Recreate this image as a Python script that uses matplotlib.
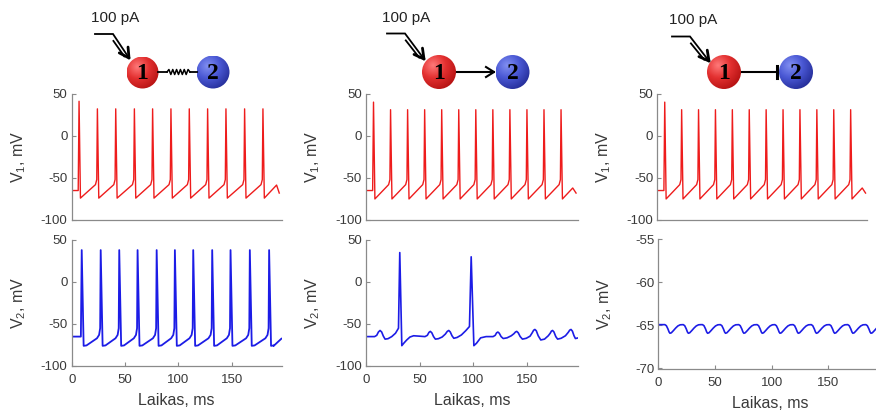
import numpy as np
import matplotlib
matplotlib.use("Agg")
import matplotlib.pyplot as plt
from matplotlib.colors import LinearSegmentedColormap
from matplotlib.patches import Circle

plt.rcParams['font.family'] = ['Liberation Sans', 'DejaVu Sans']
plt.rcParams['mathtext.fontset'] = 'custom'
plt.rcParams['mathtext.rm'] = 'Liberation Sans'
plt.rcParams['axes.unicode_minus'] = False

# ---- values (time in ms, voltage in mV) ----
x_ticks = [0, 50, 100, 150]
v_ticks = [50, 0, -50, -100]
v_ticks_inh = [-55, -60, -65, -70]
x_label = "Laikas, ms"
input_label = "100 pA"

# neuron 1, gap junction (panel 1)
v1_gap_spikes = [6.9, 24.1, 41.3, 58.8, 75.9, 93.1, 110.3, 127.5, 144.7, 162.2, 179.4]
v1_gap_peaks = [41, 32, 32, 32, 32, 32, 32, 32, 32, 32, 32]
v1_gap_tail = [(192.2, -58.5), (194.7, -68)]

# neuron 1, chemical synapse (panels 2 and 3)
v1_syn_spikes = [7.0, 22.9, 38.8, 54.7, 70.6, 86.5, 102.4, 118.3, 134.2, 150.1, 166.0, 181.9]
v1_syn_peaks = [40, 31, 31, 31, 31, 31, 31, 31, 31, 31, 31, 31]
v1_syn_tail = [(192.8, -62), (195.9, -68)]

# neuron 2, gap junction (panel 1)
v2_gap_spikes = [9.4, 27.2, 44.6, 61.8, 79.7, 96.8, 114.0, 131.8, 149.0, 167.1, 185.2]
v2_gap_peaks = [38, 38, 38, 38, 38, 38, 38, 38, 38, 38, 38]
v2_gap_tail = [(189.5, -76), (196.7, -67.5)]

# neuron 2, excitatory synapse (panel 2), trace vertices
v2_exc = [
    (0, -65), (8.0, -65), (10.0, -63.5), (11.6, -59.5), (13.1, -57.7), (14.6, -59.5), (16.2, -64.5), (17.8, -68),
    (20.5, -67.5), (24.0, -65), (27.5, -61), (30.3, -55), (31.5, 35), (33.4, -75.8),
    (35.5, -72.5), (38.0, -69), (41.0, -65.5), (44.4, -64), (50.0, -64.5), (55.0, -65),
    (57.2, -63.5), (58.7, -60), (60.0, -58.8), (61.4, -60.5), (63.0, -65), (64.7, -68), (67.5, -67.5), (71.0, -65.5),
    (74.0, -62), (75.8, -58.8), (77.2, -57.7), (78.6, -59.5), (80.2, -64), (81.9, -67), (85.0, -66), (89.0, -63),
    (93.0, -58), (96.5, -53), (98.1, 30), (100.6, -75.8), (103.0, -73), (106.9, -66.5),
    (112.0, -65), (118.5, -65), (120.5, -63.5), (121.8, -60.5), (123.0, -59.6), (124.3, -61), (126.0, -65), (128.0, -67.3),
    (131.5, -66.5), (135.5, -64), (138.0, -61.5), (139.4, -59.5), (140.6, -58.8), (142.0, -60.5), (143.8, -65), (145.9, -68),
    (149.5, -67), (153.0, -64.5), (155.0, -60.5), (156.3, -57.5), (157.5, -56.5), (158.8, -58), (160.6, -64), (163.0, -69),
    (166.5, -68), (170.0, -64), (171.8, -61), (172.9, -58.5), (174.0, -57.7), (175.3, -59.5), (177.0, -65), (178.7, -68),
    (182.0, -67), (186.0, -64), (188.6, -60), (190.0, -57.3), (191.2, -56.5), (192.5, -58.5), (194.0, -64), (195.3, -67.3),
    (198.0, -66.5),
]

# neuron 2, inhibitory synapse (panel 3): times of IPSP minima
v2_inh_dips = [10.3, 26.5, 43.5, 59.3, 75.5, 91.7, 107.4, 123.5, 139.5, 155.6, 171.7, 187.7]
v2_inh_rest = -64.9
v2_inh_min = -65.9

RED = '#ee1c1c'
BLUE = '#1c1ce6'
AX_COL = '#8a8a8a'
TXT_COL = '#3a3a3a'


def spike_trace(spikes, peaks, rest, before, after, tail):
    # piecewise trace: resting level, spikes, after-hyperpolarisation ramps
    t = [0.0, spikes[0] - 0.8]
    v = [rest, rest]
    for i, (s, p) in enumerate(zip(spikes, peaks)):
        if i > 0:
            for dt, vv in before:
                t.append(s + dt)
                v.append(vv)
        t.append(s)
        v.append(p)
        for dt, vv in after:
            t.append(s + dt)
            v.append(vv)
    for tt, vv in tail:
        t.append(tt)
        v.append(vv)
    return t, v


def ipsp_trace(dips, rest, vmin):
    depth = rest - vmin
    shape = [(-4.5, 0.0), (-3.2, 0.12), (-1.8, 0.5), (-0.8, 0.85), (0.0, 1.0), (1.2, 0.95),
             (3.0, 0.7), (5.0, 0.4), (7.0, 0.15), (9.0, 0.02), (11.0, 0.0)]
    t = [0.0]
    v = [rest]
    for d in dips:
        for dt, f in shape:
            t.append(d + dt)
            v.append(rest - f * depth)
    return t, v


W, H = 876, 412
fig = plt.figure(figsize=(W / 100, H / 100), dpi=100)


def px_axes(x0, y0, x1, y1):
    return fig.add_axes([x0 / W, 1 - y1 / H, (x1 - x0) / W, (y1 - y0) / H])


def style(ax, xmax, ylim, yticks, bottom):
    ax.set_xlim(0, xmax)
    ax.set_ylim(*ylim)
    ax.patch.set_alpha(0)
    for s in ['top', 'right']:
        ax.spines[s].set_visible(False)
    for s in ['left', 'bottom']:
        ax.spines[s].set_color(AX_COL)
        ax.spines[s].set_linewidth(0.9)
    ax.set_yticks(yticks)
    ax.tick_params(direction='in', length=3, width=0.8, color=AX_COL,
                   labelsize=9.5, labelcolor=TXT_COL, pad=3)
    ax.tick_params(axis='x', pad=6)
    if bottom:
        ax.set_xticks(x_ticks)
        ax.set_xlabel(x_label, fontsize=11.5, color=TXT_COL)
    else:
        ax.set_xticks([])


def ylab(ax, n, width_px, height_px, is_bottom):
    ax.set_ylabel('V$_\\mathregular{%d}$, mV' % n, fontsize=11.5, color=TXT_COL)
    ax.yaxis.set_label_coords(-44 / width_px, 0.5)
    if is_bottom:
        ax.xaxis.set_label_coords(0.5, -27 / height_px)


# ---- top row: neuron 1 ----
t1g, v1g = spike_trace(v1_gap_spikes, v1_gap_peaks, -65, [(-1.8, -58), (-0.6, -52)], [(1.3, -74)], v1_gap_tail)
t1s, v1s = spike_trace(v1_syn_spikes, v1_syn_peaks, -65, [(-1.8, -58), (-0.6, -52)], [(1.3, -75)], v1_syn_tail)
t2g, v2g = spike_trace(v2_gap_spikes, v2_gap_peaks, -65, [(-3.5, -67), (-1.5, -63), (-0.5, -55)],
                       [(1.8, -76), (4.5, -75.5)], v2_gap_tail)
t2e = [p[0] for p in v2_exc]
v2e = [p[1] for p in v2_exc]
t2i, v2i = ipsp_trace(v2_inh_dips, v2_inh_rest, v2_inh_min)

boxes_top = [(71.7, 93.7, 281.7, 220), (366, 93.7, 578.3, 220), (657.3, 93.7, 866.7, 220)]
xmax_top = [197, 198, 197]
traces_top = [(t1g, v1g), (t1s, v1s), (t1s, v1s)]
for box, xm, (tt, vv) in zip(boxes_top, xmax_top, traces_top):
    ax = px_axes(*box)
    ax.plot(tt, vv, color=RED, lw=1.0)
    style(ax, xm, (-100, 50), v_ticks, False)
    ylab(ax, 1, box[2] - box[0], box[3] - box[1], False)

# ---- bottom row: neuron 2 ----
ax = px_axes(71.7, 240, 281.7, 366)
ax.plot(t2g, v2g, color=BLUE, lw=1.3)
style(ax, 197, (-100, 50), v_ticks, True)
ylab(ax, 2, 210, 126, True)

ax = px_axes(366, 240, 578.3, 366)
ax.plot(t2e, v2e, color=BLUE, lw=1.2)
style(ax, 198, (-100, 50), v_ticks, True)
ylab(ax, 2, 212.3, 126, True)

ax = px_axes(658.3, 239.5, 881.5, 368.5)
ax.plot(t2i, v2i, color=BLUE, lw=1.2)
style(ax, 197, (-70, -55), v_ticks_inh, True)
ylab(ax, 2, 223.2, 129, True)

# ---- schematics on top ----
ov = fig.add_axes([0, 0, 1, 1], zorder=-1)
ov.set_xlim(0, W)
ov.set_ylim(H, 0)
ov.axis('off')

red_cmap = LinearSegmentedColormap.from_list('r', ['#ff7a7a', '#e33030', '#b81414'])
blue_cmap = LinearSegmentedColormap.from_list('b', ['#8290f2', '#4a58d4', '#27309c'])


def ball(cx, cy, r, cmap, label):
    n = 60
    xs = np.linspace(cx - r, cx + r, n)
    ys = np.linspace(cy - r, cy + r, n)
    X, Y = np.meshgrid(xs, ys)
    d = np.hypot(X - (cx - 0.35 * r), Y - (cy - 0.4 * r)) / (1.5 * r)
    im = ov.imshow(d, cmap=cmap, vmin=0, vmax=1, extent=(cx - r, cx + r, cy + r, cy - r),
                   origin='upper', aspect='auto', interpolation='bilinear')
    c = Circle((cx, cy), r, transform=ov.transData, facecolor='none', edgecolor='none')
    ov.add_patch(c)
    im.set_clip_path(c)
    ov.text(cx, cy + 1, label, fontsize=17, fontweight='bold', family='Liberation Serif',
            ha='center', va='center', color='black')


def stim(x0, y0, xb, tip):
    ov.plot([x0, xb, tip[0]], [y0, y0, tip[1]], color='black', lw=1.3, solid_joinstyle='miter')
    d = np.array([tip[0] - xb, tip[1] - y0], dtype=float)
    d /= np.hypot(*d)
    perp = np.array([-d[1], d[0]])
    # second shaft line
    a = np.array([xb, y0]) + d * 6 + perp * 3.5
    b = np.array(tip) - d * 4 + perp * 3.0
    ov.plot([a[0], b[0]], [a[1], b[1]], color='black', lw=1.3)
    for ang in (0.5, -0.5):
        rot = np.array([[np.cos(ang), -np.sin(ang)], [np.sin(ang), np.cos(ang)]])
        arm = np.array(tip) - rot @ d * 11
        ov.plot([tip[0], arm[0]], [tip[1], arm[1]], color='black', lw=2.0, solid_capstyle='round')


cy = 72
ov.text(115, 18, input_label, fontsize=11, ha='center', va='center', color='#222222')
ov.text(406, 18, input_label, fontsize=11, ha='center', va='center', color='#222222')
ov.text(693, 20, input_label, fontsize=11, ha='center', va='center', color='#222222')

stim(95, 34, 113, (129, 58))
stim(387, 33.5, 405, (424, 59))
stim(672, 36.5, 690, (709, 61))

# panel 1: electrical synapse (spring)
zx = np.linspace(167, 190, 13)
zy = cy + np.array([0, -2.5, 2.5, -2.5, 2.5, -2.5, 2.5, -2.5, 2.5, -2.5, 2.5, -2.5, 0])
ov.plot([158, 167], [cy, cy], color='black', lw=1.3)
ov.plot(zx, zy, color='black', lw=1.1)
ov.plot([190, 197], [cy, cy], color='black', lw=1.3)

# panel 2: excitatory arrow
ov.plot([457, 494], [cy, cy], color='black', lw=1.5)
ov.plot([486, 494, 486], [cy - 5, cy, cy + 5], color='black', lw=1.5)

# panel 3: inhibitory bar
ov.plot([742, 777], [cy, cy], color='black', lw=1.5)
ov.plot([777, 777], [cy - 6, cy + 6], color='black', lw=2.2)

ball(142.5, 72.5, 16, red_cmap, '1')
ball(213, 72, 16.5, blue_cmap, '2')
ball(439, 72, 17, red_cmap, '1')
ball(512.5, 72, 17, blue_cmap, '2')
ball(724, 72, 17, red_cmap, '1')
ball(796, 72, 17, blue_cmap, '2')

ov.set_xlim(0, W)
ov.set_ylim(H, 0)

fig.savefig("out.png", dpi=100)
